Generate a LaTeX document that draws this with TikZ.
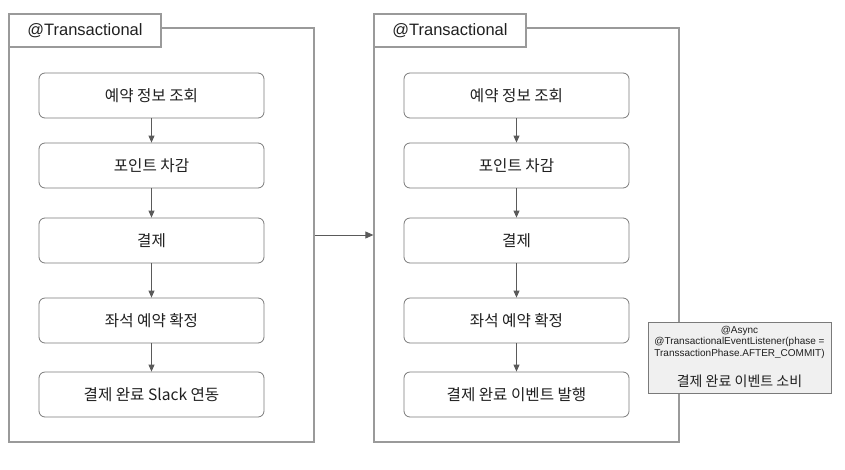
\documentclass[tikz,border=0pt]{standalone}
\usepackage{fontspec}
\setmainfont{Liberation Sans}
\newfontfamily\kr{Noto Sans CJK KR}
\usetikzlibrary{arrows.meta}
\definecolor{framec}{HTML}{9A9A9A}
\definecolor{boxc}{HTML}{7A7A7A}
\definecolor{arrc}{HTML}{5A5A5A}
\definecolor{txt}{HTML}{202020}
\definecolor{asyncfill}{HTML}{F0F0F0}
\tikzset{
  frame/.style={draw=framec, line width=1.3pt, minimum width=305pt, minimum height=414pt, inner sep=0pt},
  tab/.style={draw=framec, line width=1.3pt, fill=white, minimum width=152pt, minimum height=33pt, inner sep=0pt, font=\fontsize{16.5}{18}\selectfont, text=txt},
  stepbox/.style={draw=boxc, line width=0.8pt, rounded corners=6pt, fill=white, minimum width=225pt, minimum height=45pt, inner sep=0pt, font=\kr\fontsize{15.6}{17}\selectfont, text=txt},
  asyncbox/.style={draw=boxc, line width=1pt, fill=asyncfill, minimum width=183pt, minimum height=71pt, inner sep=0pt, text=txt},
  conn/.style={draw=arrc, line width=0.8pt, -{Triangle[length=7pt,width=6pt]}},
  hconn/.style={draw=arrc, line width=0.8pt, -{Triangle[length=8pt,width=7pt]}},
}
\begin{document}
\begin{tikzpicture}[x=1pt,y=-1pt]
\useasboundingbox (0,0) rectangle (845,469);
% frames
\node[frame] (F1) at (161.5,235) {};
\node[frame] (F2) at (526.5,235) {};
\node[tab] (T1) at (85,30.5) {@Transactional};
\node[tab] (T2) at (450,30.5) {@Transactional};
% left column
\node[stepbox] (L1) at (151.5,95.5) {예약 정보 조회};
\node[stepbox] (L2) at (151.5,165.5) {포인트 차감};
\node[stepbox] (L3) at (151.5,240.5) {결제};
\node[stepbox] (L4) at (151.5,320.5) {좌석 예약 확정};
\node[stepbox] (L5) at (151.5,394.5) {결제 완료 Slack 연동};
% right column
\node[stepbox] (R1) at (516.5,95.5) {예약 정보 조회};
\node[stepbox] (R2) at (516.5,165.5) {포인트 차감};
\node[stepbox] (R3) at (516.5,240.5) {결제};
\node[stepbox] (R4) at (516.5,320.5) {좌석 예약 확정};
\node[stepbox] (R5) at (516.5,394.5) {결제 완료 이벤트 발행};
% connectors
\draw[conn] (L1) -- (L2);
\draw[conn] (L2) -- (L3);
\draw[conn] (L3) -- (L4);
\draw[conn] (L4) -- (L5);
\draw[conn] (R1) -- (R2);
\draw[conn] (R2) -- (R3);
\draw[conn] (R3) -- (R4);
\draw[conn] (R4) -- (R5);
\draw[hconn] (F1.east) -- (F2.west);
% async consumer
\node[asyncbox] (A) at (739.5,357.5) {};
\node[anchor=north, align=center, inner sep=0pt, text=txt, font=\fontsize{10}{11.5}\selectfont] (AT) at (739.5,326) {@Async\\@TransactionalEventListener(phase =\\TranssactionPhase.AFTER\_COMMIT)};
\node[inner sep=0pt, text=txt, font=\kr\fontsize{14}{16}\selectfont] (AK) at (739.5,381) {결제 완료 이벤트 소비};
\end{tikzpicture}
\end{document}
